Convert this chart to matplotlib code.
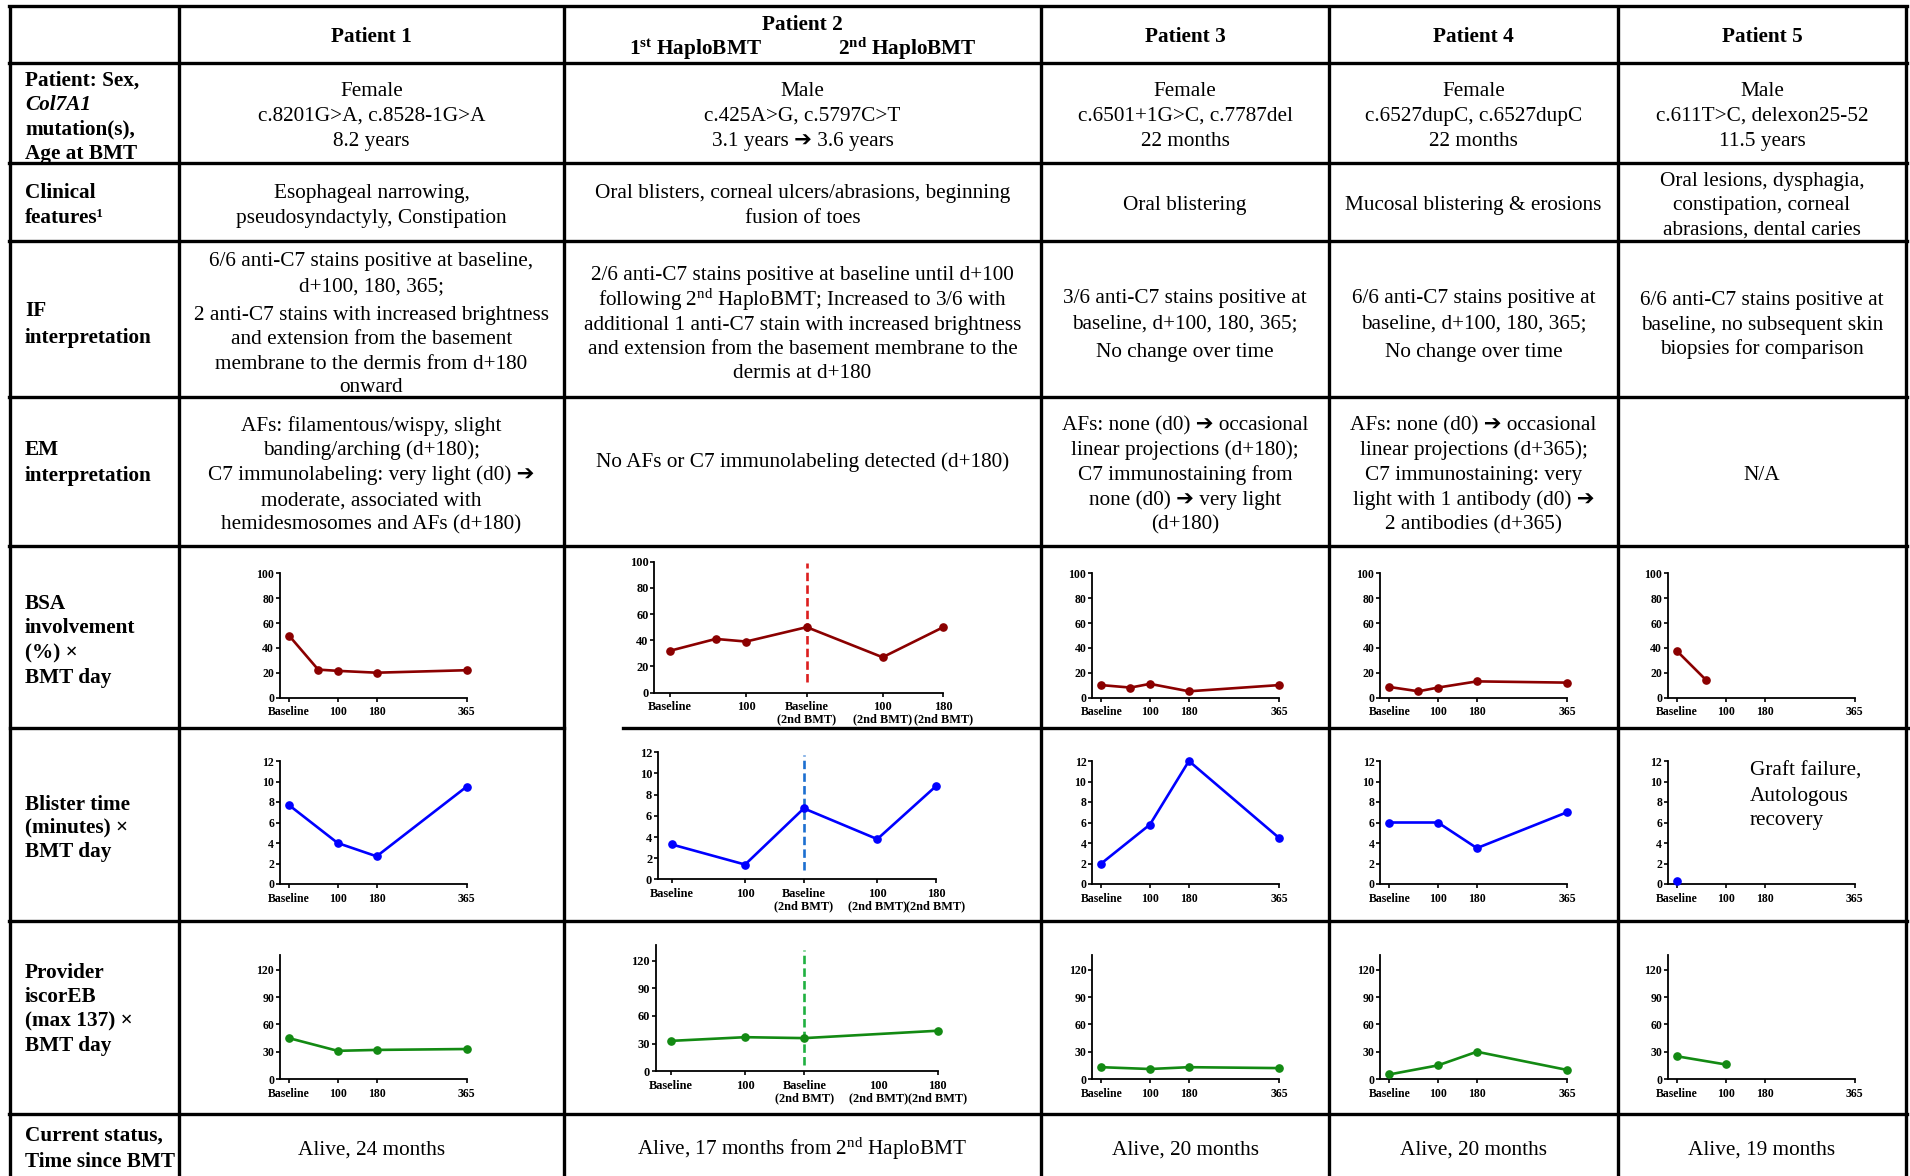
import matplotlib
matplotlib.use("Agg")
import matplotlib.pyplot as plt

W, H = 1910, 1176
plt.rcParams['font.family'] = ['Liberation Serif', 'DejaVu Sans']
plt.rcParams['mathtext.fontset'] = 'custom'
plt.rcParams['mathtext.rm'] = 'Liberation Serif'
plt.rcParams['mathtext.it'] = 'Liberation Serif:italic'
plt.rcParams['mathtext.bf'] = 'Liberation Serif:bold'

ARROW = "\u2794"

# ---------------- table text ----------------
patients = ["Patient 1", "Patient 2", "Patient 3", "Patient 4", "Patient 5"]
p2_sub = ["1$^{\\mathbf{st}}$ HaploBMT", "2$^{\\mathbf{nd}}$ HaploBMT"]

row_labels = [
    ["Patient: Sex,", "Col7A1", "mutation(s),", "Age at BMT"],
    ["Clinical", "features\u00b9"],
    ["IF", "interpretation"],
    ["EM", "interpretation"],
    ["BSA", "involvement", "(%) \u00d7", "BMT day"],
    ["Blister time", "(minutes) \u00d7", "BMT day"],
    ["Provider", "iscorEB", "(max 137) \u00d7", "BMT day"],
    ["Current status,", "Time since BMT"],
]

demographics = [
    ["Female", "c.8201G>A, c.8528-1G>A", "8.2 years"],
    ["Male", "c.425A>G, c.5797C>T", f"3.1 years {ARROW} 3.6 years"],
    ["Female", "c.6501+1G>C, c.7787del", "22 months"],
    ["Female", "c.6527dupC, c.6527dupC", "22 months"],
    ["Male", "c.611T>C, delexon25-52", "11.5 years"],
]
clinical = [
    ["Esophageal narrowing,", "pseudosyndactyly, Constipation"],
    ["Oral blisters, corneal ulcers/abrasions, beginning", "fusion of toes"],
    ["Oral blistering"],
    ["Mucosal blistering & erosions"],
    ["Oral lesions, dysphagia,", "constipation, corneal", "abrasions, dental caries"],
]
if_text = [
    ["6/6 anti-C7 stains positive at baseline,", "d+100, 180, 365;",
     "2 anti-C7 stains with increased brightness", "and extension from the basement",
     "membrane to the dermis from d+180", "onward"],
    ["2/6 anti-C7 stains positive at baseline until d+100",
     "following 2$^{\\mathrm{nd}}$ HaploBMT; Increased to 3/6 with",
     "additional 1 anti-C7 stain with increased brightness",
     "and extension from the basement membrane to the", "dermis at d+180"],
    ["3/6 anti-C7 stains positive at", "baseline, d+100, 180, 365;", "No change over time"],
    ["6/6 anti-C7 stains positive at", "baseline, d+100, 180, 365;", "No change over time"],
    ["6/6 anti-C7 stains positive at", "baseline, no subsequent skin", "biopsies for comparison"],
]
em_text = [
    ["AFs: filamentous/wispy, slight", "banding/arching (d+180);",
     f"C7 immunolabeling: very light (d0) {ARROW}", "moderate, associated with",
     "hemidesmosomes and AFs (d+180)"],
    ["No AFs or C7 immunolabeling detected (d+180)"],
    [f"AFs: none (d0) {ARROW} occasional", "linear projections (d+180);",
     "C7 immunostaining from", f"none (d0) {ARROW} very light", "(d+180)"],
    [f"AFs: none (d0) {ARROW} occasional", "linear projections (d+365);",
     "C7 immunostaining: very", f"light with 1 antibody (d0) {ARROW}", "2 antibodies (d+365)"],
    ["N/A"],
]
status = ["Alive, 24 months", "Alive, 17 months from 2$^{\\mathrm{nd}}$ HaploBMT",
          "Alive, 20 months", "Alive, 20 months", "Alive, 19 months"]
graft_note = ["Graft failure,", "Autologous", "recovery"]

# ---------------- series (day after BMT, value) ----------------
days_std = [0, 100, 180, 365]
ticks_std = [0, 100, 180, 365]
ticklabels_std = ["Baseline", "100", "180", "365"]
days_bsa_std = [0, 60, 100, 180, 365]

bsa_p1 = [50, 22.5, 21.5, 20, 22]
blister_p1 = [7.7, 4.0, 2.7, 9.5]
iscoreb_p1 = [45, 31, 32, 33]

days_p2_bsa = [0, 60, 100, 180, 280, 360]
days_p2_blister = [0, 100, 180, 280, 360]
days_p2_iscoreb = [0, 100, 180, 360]
ticks_p2 = [0, 100, 180, 280, 360]
ticklabels_p2 = ["Baseline", "100", "Baseline\n(2nd BMT)", "100\n(2nd BMT)", "180\n(2nd BMT)"]
second_bmt_day = 180
bsa_p2 = [32, 41, 39, 50, 27, 50]
blister_p2 = [3.3, 1.4, 6.7, 3.8, 8.8]
iscoreb_p2 = [33, 37, 36, 44]

bsa_p3 = [10, 8, 11, 5, 10]
blister_p3 = [2.0, 5.8, 12.0, 4.5]
iscoreb_p3 = [13, 11, 13, 12]

bsa_p4 = [8.5, 5, 8, 13, 12]
blister_p4 = [6.0, 6.0, 3.5, 7.0]
iscoreb_p4 = [5, 15, 30, 10]

days_p5_bsa = [0, 60]
bsa_p5 = [37.5, 14]
days_p5_blister = [0]
blister_p5 = [0.3]
days_p5_iscoreb = [0, 100]
iscoreb_p5 = [25, 16]

BSA_C, BLI_C, ISC_C = "#8b0000", "#0000ff", "#138a13"
DASH_C = {"bsa": "#dc1e1e", "bli": "#1c6fd0", "isc": "#1fb040"}

# ---------------- figure & table grid ----------------
fig = plt.figure(figsize=(W / 100, H / 100), dpi=100)
bg = fig.add_axes([0, 0, 1, 1])
bg.set_xlim(0, W)
bg.set_ylim(H, 0)
bg.axis("off")

cols = [10, 179, 564, 1041, 1329, 1618, 1906]
rows = [6, 63, 163, 241, 397, 546, 728, 921, 1114]
LW = 2.4
for x in cols:
    bg.plot([x, x], [rows[0] - 1, H + 5], color="black", lw=LW, solid_capstyle="butt")
for i, y in enumerate(rows):
    if y == 728:
        # the embedded chart in patient 2's BSA cell covers the start of this rule
        bg.plot([cols[0], cols[2]], [y, y], color="black", lw=LW)
        bg.plot([623, W], [y, y], color="black", lw=LW)
    else:
        bg.plot([cols[0] - 1, cols[-1] + 1], [y, y], color="black", lw=LW)

FS = 15.3
centers = [(cols[i] + cols[i + 1]) / 2 for i in range(len(cols) - 1)]


def put_lines(x, ys, lines, ha="center", weight="normal", styles=None):
    for k, (y, s) in enumerate(zip(ys, lines)):
        st = styles[k] if styles else "normal"
        bg.text(x, y + 7, s, ha=ha, va="baseline", fontsize=FS,
                fontweight=weight, fontstyle=st)


# header
for j, name in enumerate(patients):
    if j == 1:
        put_lines(centers[2], [23], [name], weight="bold")
        put_lines(695.5, [47.5], [p2_sub[0]], weight="bold")
        put_lines(907.5, [47.5], [p2_sub[1]], weight="bold")
    else:
        put_lines(centers[j + 1], [35], [name], weight="bold")

# left labels
LX = 25
label_ys = [
    [79, 103.5, 127.5, 151.5],
    [191, 215.6],
    [309.4, 336],
    [448.2, 473.8],
    [601.7, 626, 651.6, 676],
    [802.7, 825.8, 850.2],
    [970.8, 995, 1019.5, 1043.8],
    [1134, 1159.6],
]
for r, (lab, ys) in enumerate(zip(row_labels, label_ys)):
    styles = ["normal", "italic", "normal", "normal"] if r == 0 else None
    put_lines(LX, ys, lab, ha="left", weight="bold", styles=styles)

# body text
for j in range(5):
    cx = centers[j + 1]
    put_lines(cx, [89, 114, 139], demographics[j])
    n = len(clinical[j])
    ys = {1: [203.4], 2: [191, 215.6], 3: [179, 203.4, 227.8]}[n]
    put_lines(cx, ys, clinical[j])
    n = len(if_text[j])
    ys = {6: [259.4, 283.8, 313, 337.4, 361.8, 385],
          5: [272.8, 298.4, 322.8, 347, 371.5],
          3: [296, 321.6, 349.6] if j in (2, 3) else [298.4, 322.8, 347]}[n]
    put_lines(cx, ys, if_text[j])
    n = len(em_text[j])
    ys = {5: [423.9, 448.2, 472.6, 498.2, 522.5], 1: [460.4] if j == 1 else [472.6]}[n]
    put_lines(cx, ys, em_text[j])
    put_lines(cx, [1147.4], [status[j]])

put_lines(1750, [768.6, 794, 818.5], graft_note, ha="left")


# ---------------- mini charts ----------------
def mini(box, xlim, ylim_top, yticks, days, vals, color, xticks, xlabels,
         tick_fs=8.5, vline=None, hide_tick=None):
    xl, xr, yt, yb = box
    ax = fig.add_axes([xl / W, 1 - yb / H, (xr - xl) / W, (yb - yt) / H])
    ax.patch.set_alpha(0)
    ax.set_xlim(*xlim)
    ax.set_ylim(0, ylim_top)
    if vline is not None:
        vx, v0, v1, vc = vline
        ax.plot([vx, vx], [v0, v1], color=vc, lw=1.9, ls=(0, (3.2, 1.6)), zorder=2)
    ax.plot(days, vals, color=color, lw=1.9, marker="o", ms=5.2,
            clip_on=False, zorder=3)
    for s in ("top", "right"):
        ax.spines[s].set_visible(False)
    for s in ("left", "bottom"):
        ax.spines[s].set_linewidth(1.3)
    ax.set_yticks(yticks)
    ax.set_yticklabels([str(t) for t in yticks], fontsize=tick_fs, fontweight="bold")
    ax.set_xticks(xticks)
    ax.set_xticklabels(xlabels, fontsize=tick_fs, fontweight="bold", linespacing=1.05)
    ax.tick_params(axis="both", direction="out", length=3.2, width=1.2)
    ax.tick_params(axis="y", pad=0.8)
    ax.tick_params(axis="x", pad=3.0)
    if hide_tick is not None:
        ax.xaxis.get_major_ticks()[hide_tick].tick1line.set_visible(False)
    return ax


bsa_ticks = [0, 20, 40, 60, 80, 100]
bli_ticks = [0, 2, 4, 6, 8, 10, 12]
isc_ticks = [0, 30, 60, 90, 120]

std_cols = {0: 279.7, 2: 1092, 3: 1380, 4: 1667.7}
std_series = {
    0: (days_bsa_std, bsa_p1, days_std, blister_p1, days_std, iscoreb_p1),
    2: (days_bsa_std, bsa_p3, days_std, blister_p3, days_std, iscoreb_p3),
    3: (days_bsa_std, bsa_p4, days_std, blister_p4, days_std, iscoreb_p4),
    4: (days_p5_bsa, bsa_p5, days_p5_blister, blister_p5, days_p5_iscoreb, iscoreb_p5),
}
for j, xl in std_cols.items():
    xr = xl + 187
    db, vb, dl, vl, di, vi = std_series[j]
    mini((xl, xr, 573.5, 697.5), (-19, 365), 100, bsa_ticks, db, vb, BSA_C,
         ticks_std, ticklabels_std)
    mini((xl, xr, 761, 884), (-19, 365), 12, bli_ticks, dl, vl, BLI_C,
         ticks_std, ticklabels_std)
    mini((xl, xr, 954.5, 1079), (-19, 365), 137, isc_ticks, di, vi, ISC_C,
         ticks_std, ticklabels_std)

# patient 2 (two transplants)
mini((654.3, 943.3, 561.7, 692.6), (-21, 360), 100, bsa_ticks, days_p2_bsa, bsa_p2,
     BSA_C, ticks_p2, ticklabels_p2, tick_fs=8.9,
     vline=(second_bmt_day, 8, 99, DASH_C["bsa"]))
mini((657.7, 936, 752.2, 879.4), (-19, 360), 12, bli_ticks, days_p2_blister, blister_p2,
     BLI_C, ticks_p2, ticklabels_p2, tick_fs=8.9,
     vline=(second_bmt_day, 0.9, 11.7, DASH_C["bli"]))
mini((655.7, 937.7, 945, 1071.3), (-20.6, 360), 137, isc_ticks, days_p2_iscoreb, iscoreb_p2,
     ISC_C, ticks_p2, ticklabels_p2, tick_fs=8.9,
     vline=(second_bmt_day, 7, 132, DASH_C["isc"]), hide_tick=3)

fig.savefig("out.png", dpi=100)
